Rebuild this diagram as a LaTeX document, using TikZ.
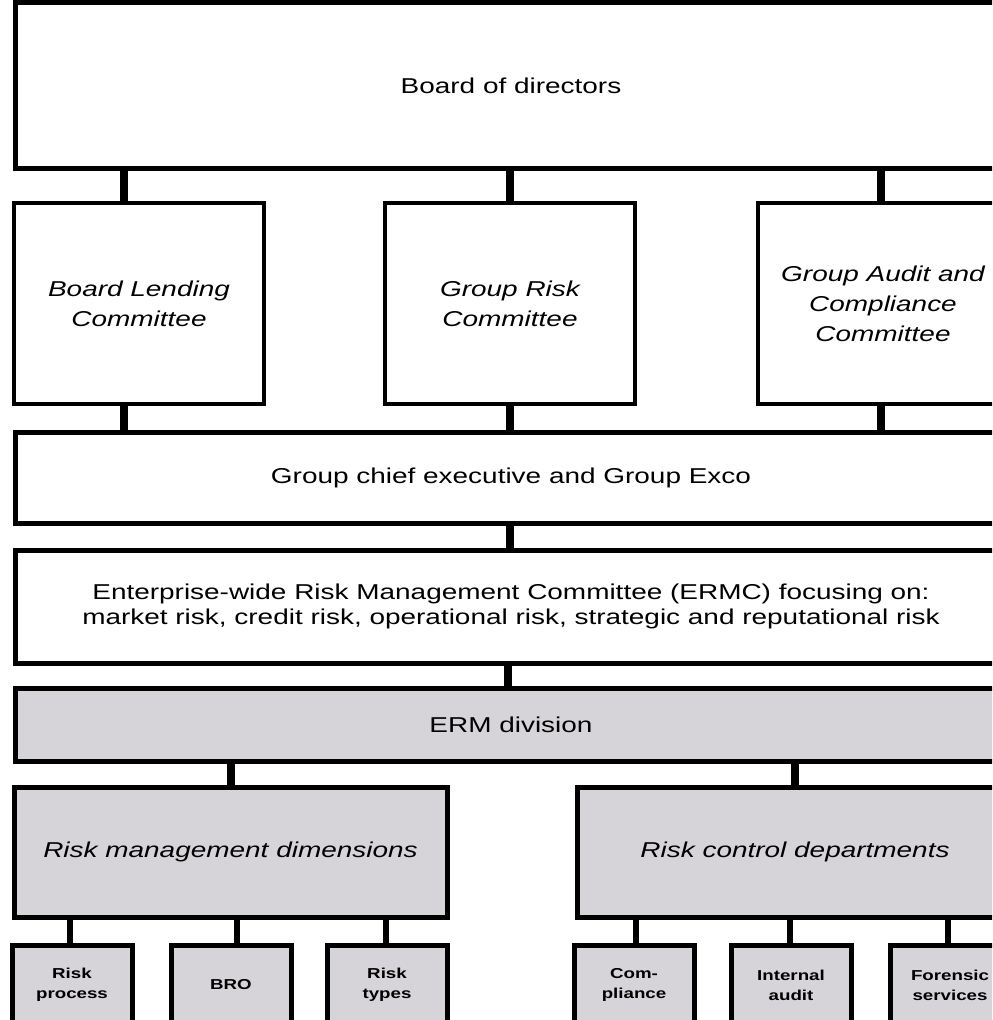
\documentclass[tikz,border=0pt]{standalone}
\usepackage{fontspec}
\newfontfamily\orgfont[FakeStretch=1.3]{Liberation Sans}
\definecolor{ermgray}{RGB}{214,212,216}

\begin{document}
\begin{tikzpicture}[x=0.5pt, y=-0.5pt,
  box/.style={draw, line width=2.5pt, inner sep=0pt, align=center,
    font=\orgfont\fontsize{10.75}{12.5}\selectfont},
  cttee/.style={box, line width=2pt, minimum width=125pt, minimum height=100.5pt,
    font=\orgfont\itshape\fontsize{10.75}{15}\selectfont},
  unit/.style={box, fill=ermgray},
  dept/.style={unit, minimum width=60pt, minimum height=40pt,
    font=\orgfont\bfseries\fontsize{7.2}{10}\selectfont},
  link/.style={line width=4pt},
  sublink/.style={line width=3.2pt}]
  % page frame, the chart runs off the right and bottom edges
  \useasboundingbox (0,0) rectangle (992,1020);
  \clip (0,0) rectangle (992,1020);
  \fill[white] (0,0) rectangle (992,1020);

  % board level
  \node[box, minimum width=496pt, minimum height=83pt] (board) at (511,86) {Board of directors};

  % board committees
  \node[cttee] (blc) at (139,303.5) {Board Lending\\Committee};
  \node[cttee] (grc) at (510,303.5) {Group Risk\\Committee};
  \node[cttee] (gac) at (883,303.5) {Group Audit and\\Compliance\\Committee};

  % executive and ERMC
  \node[box, minimum width=496pt, minimum height=45pt] (exco) at (511,478)
    {Group chief executive and Group Exco};
  \node[box, minimum width=496pt, minimum height=56.5pt] (ermc) at (511,606.5)
    {Enterprise-wide Risk Management Committee (ERMC) focusing on:\\
     market risk, credit risk, operational risk, strategic and reputational risk};

  % ERM division and its two arms
  \node[unit, minimum width=496pt, minimum height=36.5pt] (erm) at (511,724.5) {ERM division};
  \node[unit, minimum width=216.5pt, minimum height=65pt, font=\orgfont\itshape\fontsize{10.75}{12.5}\selectfont]
    (rmd) at (230.5,852) {Risk management dimensions};
  \node[unit, minimum width=218pt, minimum height=65pt, font=\orgfont\itshape\fontsize{10.75}{12.5}\selectfont]
    (rcd) at (795,852) {Risk control departments};

  % departments
  \node[dept] (proc) at (72,985) {Risk\\process};
  \node[dept] (bro) at (231,985) {BRO};
  \node[dept] (types) at (387,985) {Risk\\types};
  \node[dept] (comp) at (634,985) {Com-\\pliance};
  \node[dept] (audit) at (791,985) {Internal\\audit};
  \node[dept] (foren) at (950,985) {Forensic\\services};

  % connectors
  \draw[link] ([xshift=-7.5pt]blc.north) -- ([xshift=-7.5pt]blc.north |- board.south);
  \draw[link] (grc.north) -- (grc.north |- board.south);
  \draw[link] ([xshift=-1pt]gac.north) -- ([xshift=-1pt]gac.north |- board.south);
  \draw[link] ([xshift=-7.5pt]blc.south) -- ([xshift=-7.5pt]blc.south |- exco.north);
  \draw[link] (grc.south) -- (grc.south |- exco.north);
  \draw[link] ([xshift=-1pt]gac.south) -- ([xshift=-1pt]gac.south |- exco.north);
  \draw[link] ([xshift=-0.5pt]exco.south) -- ([xshift=-0.5pt]ermc.north);
  \draw[link] ([xshift=-1.5pt]ermc.south) -- ([xshift=-1.5pt]erm.north);
  \draw[link] (rmd.north) -- (rmd.north |- erm.south);
  \draw[link] (rcd.north) -- (rcd.north |- erm.south);
  \draw[sublink] ([xshift=-1pt]proc.north) -- ([xshift=-1pt]proc.north |- rmd.south);
  \draw[sublink] ([xshift=3pt]bro.north) -- ([xshift=3pt]bro.north |- rmd.south);
  \draw[sublink] ([xshift=-0.5pt]types.north) -- ([xshift=-0.5pt]types.north |- rmd.south);
  \draw[sublink] ([xshift=1pt]comp.north) -- ([xshift=1pt]comp.north |- rcd.south);
  \draw[sublink] ([xshift=-0.5pt]audit.north) -- ([xshift=-0.5pt]audit.north |- rcd.south);
  \draw[sublink] ([xshift=-1pt]foren.north) -- ([xshift=-1pt]foren.north |- rcd.south);
\end{tikzpicture}
\end{document}
